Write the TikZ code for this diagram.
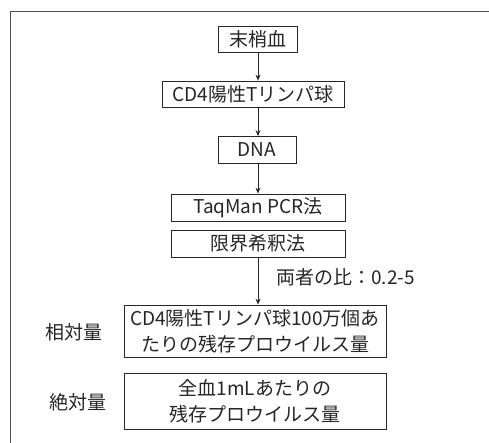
\documentclass[tikz,border=0pt]{standalone}
\usepackage{fontspec}
\newfontfamily\jp{Noto Sans CJK JP}
\usetikzlibrary{arrows.meta}
\begin{document}
\begin{tikzpicture}[x=1pt,y=-1pt,
  box/.style={draw=black!85, line width=0.8pt, inner sep=0pt, font=\jp\fontsize{19}{26}\selectfont, text=black!85, align=center},
  lbl/.style={inner sep=0pt, font=\jp\fontsize{19}{26}\selectfont, text=black!85},
  arr/.style={-{Stealth[length=6pt,width=5pt]}, line width=0.8pt, draw=black!85},
  frame/.style={line width=0.8pt, draw=black!70}]
\useasboundingbox (0,0) rectangle (489,443);
\coordinate (fb) at (10,443);
\coordinate (fc) at (10,11);
\coordinate (fr) at (489,11);
\draw[frame] (fb) -- (fc) -- (fr);
\node[box, minimum width=79, minimum height=26] (a) at (257.5,39) {末梢血};
\node[box, minimum width=182, minimum height=26] (b) at (253,94) {CD4陽性Tリンパ球};
\node[box, minimum width=78, minimum height=27] (c) at (257,150) {DNA};
\node[box, minimum width=174, minimum height=27] (d) at (258,207.5) {TaqMan PCR法};
\node[box, minimum width=174, minimum height=27] (e) at (258,243.5) {限界希釈法};
\node[box, minimum width=262, minimum height=52] (f) at (255,331) {CD4陽性Tリンパ球100万個あ\\たりの残存プロウイルス量};
\node[box, minimum width=262, minimum height=56] (g) at (255,401) {全血1mLあたりの\\残存プロウイルス量};
\node[lbl] (r) at (73.5,332) {相対量};
\node[lbl] (s) at (78,402) {絶対量};
\node[lbl, anchor=west] (t) at (276,277) {両者の比：0.2-5};
\coordinate (ax) at (258,0);
\draw[arr] (a.south -| ax) -- (b.north -| ax);
\draw[arr] (b.south -| ax) -- (c.north -| ax);
\draw[arr] (c.south -| ax) -- (d.north -| ax);
\draw[arr] (e.south -| ax) -- (f.north -| ax);
\end{tikzpicture}
\end{document}
